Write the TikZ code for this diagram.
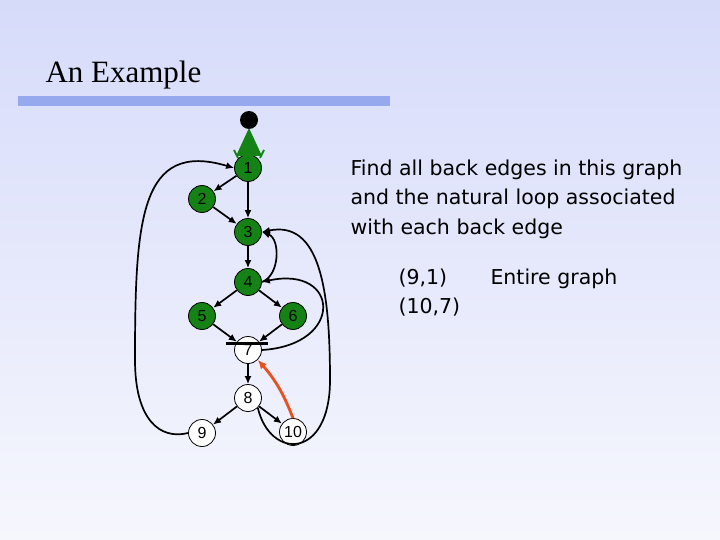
\documentclass[tikz,border=0pt]{standalone}
\usepackage{fontspec}
\setmainfont{DejaVu Sans}
\newfontfamily\numfont{Liberation Sans}
\newfontfamily\titlefont{Liberation Serif}
\usetikzlibrary{arrows.meta}
\definecolor{bgtop}{RGB}{214,219,250}
\definecolor{bgbot}{RGB}{246,247,253}
\definecolor{barblue}{RGB}{150,168,238}
\definecolor{loopgreen}{RGB}{20,130,20}
\definecolor{backred}{RGB}{232,80,30}
\tikzset{
  vtx/.style={circle,draw,line width=0.8pt,minimum size=27pt,inner sep=0pt,font=\numfont\fontsize{16}{16}\selectfont},
  invtx/.style={vtx,fill=loopgreen},
  outvtx/.style={vtx,fill=white},
  edge/.style={-{Latex[length=8pt,width=7pt]},line width=1.7pt},
  txt/.style={anchor=base west,font=\fontsize{20.5}{20.5}\selectfont}
}
\begin{document}
\begin{tikzpicture}[x=1pt,y=-1pt]
  \shade[top color=bgtop,bottom color=bgbot] (0,0) rectangle (720,540);
  \useasboundingbox (0,0) rectangle (720,540);
  \fill[barblue] (18,96) rectangle (390,106);
  \node[anchor=base west,font=\titlefont\fontsize{31}{31}\selectfont] (title) at (42,83) {An Example};

  \node[circle,fill=black,minimum size=18pt,inner sep=0pt] (entry) at (249,120) {};
  \node[invtx] (n1) at (248,168) {1};
  \node[invtx] (n2) at (202,199) {2};
  \node[invtx] (n3) at (248,232) {3};
  \node[invtx] (n4) at (248,282) {4};
  \node[invtx] (n5) at (202,316) {5};
  \node[invtx] (n6) at (293,316) {6};
  \node[outvtx] (n7) at (248,350) {7};
  \node[outvtx] (n8) at (248,398) {8};
  \node[outvtx] (n9) at (202,433) {9};
  \node[outvtx] (n10) at (293,432) {10};
  \fill[loopgreen] (249,128) -- (262,156) -- (236,156) -- cycle;
  \draw[loopgreen,line width=2pt] (234,150) -- (238,158);
  \draw[loopgreen,line width=2pt] (264,150) -- (260,158);
  \draw[line width=3pt] (226,343) -- (268,343);

  \draw[edge] (n1) -- (n2);
  \draw[edge] (n1) -- (n3);
  \draw[edge] (n2) -- (n3);
  \draw[edge] (n3) -- (n4);
  \draw[edge] (n4) -- (n5);
  \draw[edge] (n4) -- (n6);
  \draw[edge] (n5) -- (n7);
  \draw[edge] (n6) -- (n7);
  \draw[edge] (n7) -- (n8);
  \draw[edge] (n8) -- (n9);
  \draw[edge] (n8) -- (n10);
  \draw[edge] (n4.east) to[out=20,in=-20] (n3.east);
  \draw[edge] (n7.east) .. controls (345,345) and (340,265) .. (n4.east);
  \draw[edge] (n8.south east) .. controls (270,460) and (330,460) .. (330,380) .. controls (330,290) and (320,220) .. (n3.east);
  \draw[edge] (n9.west) .. controls (160,440) and (135,420) .. (135,360) .. controls (135,220) and (140,140) .. (n1.west);
  \draw[-{Latex[length=9pt,width=8pt]},line width=2.8pt,backred] (n10.north) to[bend right=10] (n7.south east);

  \node[txt] (q1) at (347,176) {Find all back edges in this graph};
  \node[txt] (q2) at (347,205) {and the natural loop associated};
  \node[txt] (q3) at (347,234) {with each back edge};
  \node[txt] (e1) at (395,284) {(9,1)};
  \node[txt] (l1) at (487,284) {Entire graph};
  \node[txt] (e2) at (395,313) {(10,7)};
\end{tikzpicture}
\end{document}
